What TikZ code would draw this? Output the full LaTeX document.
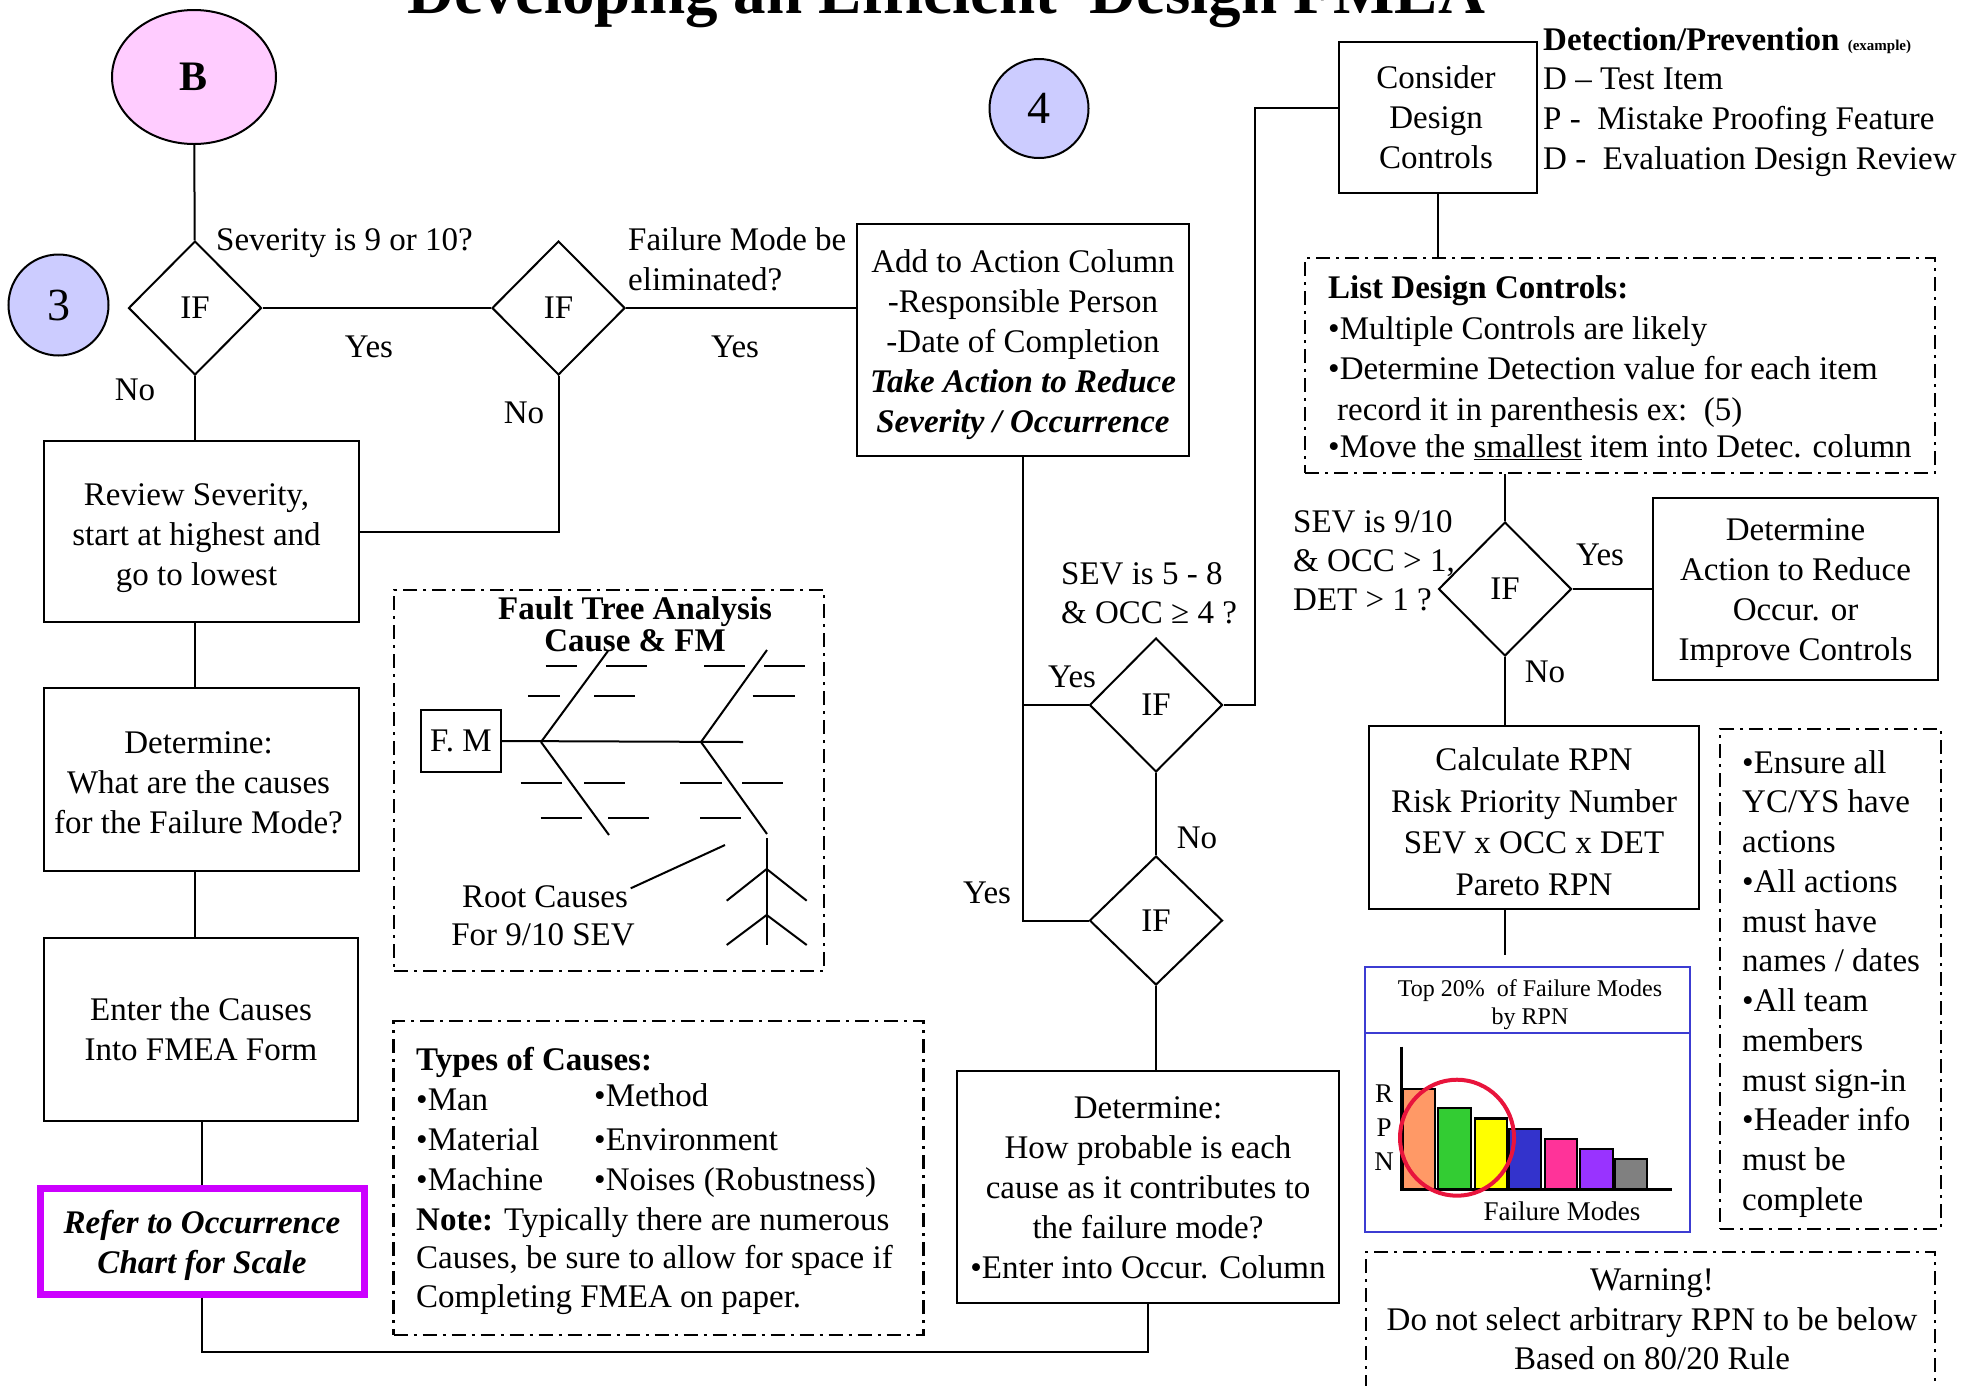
\documentclass[tikz,border=0pt]{standalone}
\usepackage{fontspec}
\setmainfont{Liberation Serif}
\usetikzlibrary{shapes.geometric}
\definecolor{pinkB}{RGB}{255,204,255}
\definecolor{lav}{RGB}{204,204,255}
\definecolor{mag}{RGB}{204,0,255}
\definecolor{chartblue}{RGB}{60,60,210}
\definecolor{barorange}{RGB}{255,153,102}
\definecolor{bargreen}{RGB}{51,204,51}
\definecolor{baryellow}{RGB}{255,255,0}
\definecolor{barblue}{RGB}{51,51,204}
\definecolor{barpink}{RGB}{255,51,153}
\definecolor{barpurple}{RGB}{153,51,255}
\definecolor{bargray}{RGB}{128,128,128}
\definecolor{ringred}{RGB}{232,20,60}
\tikzset{
  txt/.style={inner sep=0pt, font=\fontsize{33}{40}\selectfont},
  box/.style={draw, line width=2.2pt, inner sep=0pt},
  boxtxt/.style={inner sep=0pt, align=center, font=\fontsize{33}{40}\selectfont},
  dia/.style={draw, diamond, line width=2pt, inner sep=0pt, minimum width=133pt, minimum height=134pt, font=\fontsize{33}{40}\selectfont},
  conn/.style={line width=2pt},
  ddbox/.style={draw, line width=2.4pt, dash pattern=on 14pt off 6pt on 3pt off 6pt, inner sep=0pt},
  bubble/.style={draw, ellipse, line width=2pt, inner sep=0pt},
  bone/.style={line width=2pt},
  bar/.style={draw, line width=2.5pt},
}
\begin{document}
\begin{tikzpicture}[x=1pt,y=-1pt]
\useasboundingbox (0,0) rectangle (1970,1385);

% title
\node[anchor=base, inner sep=0pt, font=\bfseries\fontsize{65}{65}\selectfont] (title) at (946,13) {Developing an Efficient\ \ Design FMEA};

% bubbles
\node[bubble, fill=pinkB, minimum width=164pt, minimum height=134pt, font=\bfseries\fontsize{42}{42}\selectfont] (B) at (194,77) {B};
\node[bubble, fill=lav, minimum width=100pt, minimum height=101pt, font=\fontsize{46}{46}\selectfont] (c3) at (58.5,305) {\raisebox{-3pt}{3}};
\node[bubble, fill=lav, minimum width=99pt, minimum height=99pt, font=\fontsize{46}{46}\selectfont] (c4) at (1039,108.5) {4};

% diamonds
\node[dia] (d1) at (195,308) {\raisebox{-4pt}{IF}};
\node[dia] (d2) at (558.5,308) {\raisebox{-4pt}{IF}};
\node[dia] (d3) at (1156,705) {\raisebox{-2pt}{IF}};
\node[dia, minimum height=129pt] (d4) at (1156,920.5) {\raisebox{-1pt}{IF}};
\node[dia] (d5) at (1505,589) {\raisebox{-1pt}{IF}};

% boxes
\node[box, minimum width=332pt, minimum height=232pt] (add) at (1023,340) {};
\node[boxtxt] (addt) at ([yshift=-5pt]add.center) {Add to Action Column\\-Responsible Person\\-Date of Completion\\\textbf{\textit{Take Action to Reduce}}\\\textbf{\textit{Severity / Occurrence}}};
\node[box, minimum width=315pt, minimum height=181pt] (review) at (201.5,531.5) {};
\node[boxtxt] (reviewt) at ([xshift=-5pt,yshift=-7pt]review.center) {Review Severity,\\start at highest and\\go to lowest};
\node[box, minimum width=315pt, minimum height=183pt] (det1) at (201.5,779.5) {};
\node[boxtxt] (det1t) at ([xshift=-3pt,yshift=-3pt]det1.center) {Determine:\\What are the causes\\for the Failure Mode?};
\node[box, minimum width=314pt, minimum height=183pt] (enter) at (201,1029.5) {};
\node[boxtxt] (entert) at (enter.center) {Enter the Causes\\Into FMEA Form};
\node[box, draw=mag, line width=7pt, minimum width=324pt, minimum height=106pt] (refer) at (202,1241) {};
\node[boxtxt] (refert) at ([yshift=-4pt]refer.center) {\textbf{\textit{Refer to Occurrence}}\\\textbf{\textit{Chart for Scale}}};
\node[box, minimum width=382pt, minimum height=232pt] (occ) at (1148,1187) {};
\node[boxtxt] (occt) at ([yshift=-1pt]occ.center) {Determine:\\How probable is each \\cause as it contributes to \\the failure mode?\\•Enter into Occur. Column};
\node[box, minimum width=198pt, minimum height=151pt] (cons) at (1438,117.5) {};
\node[boxtxt] (const) at ([xshift=-2pt]cons.center) {Consider\\Design\\Controls};
\node[box, minimum width=285pt, minimum height=182pt] (detact) at (1795.5,589) {};
\node[boxtxt] (detactt) at ([yshift=-4pt]detact.center) {Determine\\Action to Reduce\\Occur. or\\Improve Controls};
\node[box, minimum width=330pt, minimum height=183pt] (calc) at (1534,817.5) {};
\node[boxtxt, font=\fontsize{33}{41.5}\selectfont] (calct) at ([yshift=-4pt]calc.center) {Calculate RPN\\Risk Priority Number\\SEV x OCC x DET\\Pareto RPN};

% dash-dot boxes
\node[ddbox, minimum width=630pt, minimum height=215pt] (list) at (1620,365.5) {};
\node[ddbox, minimum width=430pt, minimum height=381pt] (fta) at (609,780.5) {};
\node[ddbox, minimum width=530pt, minimum height=314pt] (types) at (658.5,1178) {};
\node[ddbox, minimum width=221pt, minimum height=500pt] (notes) at (1830.5,979) {};
\node[ddbox, minimum width=569pt, minimum height=160pt] (warn) at (1650.5,1332) {};

% connectors
\coordinate (turn) at (1255,108);
\coordinate (bot) at (600,1352);
\coordinate (calcend) at (1505,955);
\draw[conn] (B) -- (d1);
\draw[conn] (d1) -- (d2);
\draw[conn] (d2.east) -- (d2.east -| add.west);
\draw[conn] (d1.south) -- (d1.south |- review.north);
\draw[conn] (d2.south) |- (review.east);
\draw[conn] (d1.south |- review.south) -- (d1.south |- det1.north);
\draw[conn] (d1.south |- det1.south) -- (d1.south |- enter.north);
\draw[conn] (refer.north |- enter.south) -- (refer.north);
\draw[conn] (refer.south) -- (refer.south |- bot) -- (occ.south |- bot) -- (occ.south);
\draw[conn] (add.south) |- (d4.west);
\draw[conn] (d3.west) -- (d3.west -| add.south);
\draw[conn] (d3) -- (d4);
\draw[conn] (d4.south) -- (d4.south |- occ.north);
\draw[conn] (d3.east) -| (turn) -- (turn -| cons.west);
\draw[conn] (cons.south) -- (cons.south |- list.north);
\draw[conn] (d5.north |- list.south) -- (d5.north);
\draw[conn] (d5.east) -- (d5.east -| detact.west);
\draw[conn] (d5.south) -- (d5.south |- calc.north);
\draw[conn] (calc.south -| calcend) -- (calcend);

% decision labels
\node[txt, anchor=base west] (q1) at (216,250) {Severity is 9 or 10?};
\node[txt, anchor=base west] (q2a) at (628,250) {Failure Mode be};
\node[txt, anchor=base west] (q2b) at (628,290) {eliminated?};
\node[txt, anchor=base west] (q3a) at (1061,584) {SEV is 5 - 8};
\node[txt, anchor=base west] (q3b) at (1061,623) {\& OCC ≥ 4 ?};
\node[txt, anchor=base west] (q5a) at (1293,532) {SEV is 9/10};
\node[txt, anchor=base west] (q5b) at (1293,571) {\& OCC > 1,};
\node[txt, anchor=base west] (q5c) at (1293,610) {DET > 1 ?};
\node[txt, anchor=base] (yes1) at (369,357) {Yes};
\node[txt, anchor=base] (yes2) at (735,357) {Yes};
\node[txt, anchor=base] (no1) at (135,400) {No};
\node[txt, anchor=base] (no2) at (524,423) {No};
\node[txt, anchor=base] (yes3) at (1072,687) {Yes};
\node[txt, anchor=base] (yes4) at (987,903) {Yes};
\node[txt, anchor=base] (no3) at (1197,848) {No};
\node[txt, anchor=base] (yes5) at (1600,565) {Yes};
\node[txt, anchor=base] (no5) at (1545,682) {No};

% detection / prevention
\node[txt, anchor=base west] (dp0) at (1543,50) {\textbf{Detection/Prevention} {\fontsize{15}{15}\selectfont\bfseries (example)}};
\node[txt, anchor=base west] (dp1) at (1543,89) {D – Test Item};
\node[txt, anchor=base west] (dp2) at (1543,129) {P -\ \ Mistake Proofing Feature};
\node[txt, anchor=base west] (dp3) at (1543,169) {D -\ \ Evaluation Design Review};

% list design controls
\node[txt, anchor=base west] (l0) at (1328,298) {\textbf{List Design Controls:}};
\node[txt, anchor=base west] (l1) at (1328,339) {•Multiple Controls are likely};
\node[txt, anchor=base west] (l2) at (1328,379) {•Determine Detection value for each item};
\node[txt, anchor=base west] (l3) at (1337,420) {record it in parenthesis ex:\ \ (5)};
\node[txt, anchor=base west] (l4) at (1328,457) {•Move the \underline{smallest} item into Detec. column};

% notes box
\foreach \t [count=\i from 0] in {•Ensure all, YC/YS have, actions, •All actions, must have, names / dates, •All team, members, must sign-in, •Header info, must be, complete}
  \node[txt, anchor=base west] (note\i) at (1742,773+39.75*\i) {\t};

% warning
\node[txt, anchor=base] (w0) at (1652,1290) {Warning!};
\node[txt, anchor=base] (w1) at (1652,1330.5) {Do not select arbitrary RPN to be below};
\node[txt, anchor=base] (w2) at (1652,1369.5) {Based on 80/20 Rule};

% types of causes
\node[txt, anchor=base west] (t0) at (416,1070) {\textbf{Types of Causes:}};
\node[txt, anchor=base west] (t1) at (416,1110) {•Man};
\node[txt, anchor=base west] (t2) at (594,1106) {•Method};
\node[txt, anchor=base west] (t3) at (416,1150) {•Material};
\node[txt, anchor=base west] (t4) at (594,1150) {•Environment};
\node[txt, anchor=base west] (t5) at (416,1190) {•Machine};
\node[txt, anchor=base west] (t6) at (594,1190) {•Noises (Robustness)};
\node[txt, anchor=base west] (t7) at (416,1230) {\textbf{Note:} Typically there are numerous};
\node[txt, anchor=base west] (t8) at (416,1268) {Causes, be sure to allow for space if};
\node[txt, anchor=base west] (t9) at (416,1307) {Completing FMEA on paper.};

% fault tree analysis
\node[txt, anchor=base, font=\bfseries\fontsize{33}{33}\selectfont] (f0) at (635,619) {Fault Tree Analysis};
\node[txt, anchor=base, font=\bfseries\fontsize{33}{33}\selectfont] (f1) at (635,651) {Cause \& FM};
\node[box, line width=2pt, minimum width=80pt, minimum height=62pt, font=\fontsize{33}{40}\selectfont] (fm) at (461,741) {\raisebox{-3pt}{F. M}};
\draw[bone] (fm.east) -- (743,742);
\draw[bone] (541,742) -- (608,651);
\draw[bone] (701,742) -- (767,650);
\draw[bone] (541,742) -- (609,835);
\draw[bone] (701,742) -- (767,834);
\draw[bone] (545.7,666) -- (576.7,666) (606,666) -- (646.7,666) (528.3,696) -- (560,696) (594,696) -- (635,696);
\draw[bone] (704.3,666) -- (745,666) (764,666) -- (805,666) (752.7,696) -- (795,696);
\draw[bone] (520.7,783.3) -- (561.7,783.3) (584,783.3) -- (625,783.3) (540.7,818.3) -- (581.7,818.3) (608.3,818.3) -- (649.3,818.3);
\draw[bone] (680,783.3) -- (721.7,783.3) (742.3,783.3) -- (783.3,783.3) (700,818.3) -- (740.7,818.3);
\draw[bone] (630.7,888.3) -- (725,845);
\draw[bone] (766.7,838.3) -- (766.7,945);
\draw[bone] (726.7,900.7) -- (766.7,869) -- (806.7,900.7);
\draw[bone] (726.7,945) -- (766.7,915) -- (806.7,945);
\node[txt, anchor=base] (r0) at (545,907) {Root Causes};
\node[txt, anchor=base] (r1) at (543,945) {For 9/10 SEV};

% RPN chart
\node[draw=chartblue, line width=2pt, inner sep=0pt, minimum width=325pt, minimum height=265pt] (chart) at (1527.5,1099.5) {};
\draw[chartblue, line width=2pt] (1365,1033) -- (1690,1033);
\node[inner sep=0pt, anchor=base, font=\fontsize{24}{24}\selectfont] (h0) at (1530,996) {Top 20\%\ \ of Failure Modes};
\node[inner sep=0pt, anchor=base, font=\fontsize{24}{24}\selectfont] (h1) at (1530,1024.5) {by RPN};
\draw[bar, fill=barorange] (1403,1189) rectangle (1435,1089);
\draw[bar, fill=bargreen] (1438,1189) rectangle (1471,1108);
\draw[bar, fill=baryellow] (1475,1189) rectangle (1507,1118.6);
\draw[bar, fill=barblue] (1509,1189) rectangle (1541,1129);
\draw[bar, fill=barpink] (1545,1189) rectangle (1577,1139);
\draw[bar, fill=barpurple] (1580,1189) rectangle (1613,1149);
\draw[bar, fill=bargray] (1615,1189) rectangle (1647,1159);
\draw[line width=3pt] (1401,1046.5) -- (1401,1189) -- (1672,1189);
\draw[ringred, line width=4pt] (1457,1137.7) ellipse [x radius=57, y radius=58];
\node[inner sep=0pt, font=\fontsize{27}{27}\selectfont] (ax1) at (1384,1094) {R};
\node[inner sep=0pt, font=\fontsize{27}{27}\selectfont] (ax2) at (1384,1128) {P};
\node[inner sep=0pt, font=\fontsize{27}{27}\selectfont] (ax3) at (1384,1162) {N};
\node[inner sep=0pt, anchor=base, font=\fontsize{27}{27}\selectfont] (ax4) at (1562,1220) {Failure Modes};

\end{tikzpicture}
\end{document}
